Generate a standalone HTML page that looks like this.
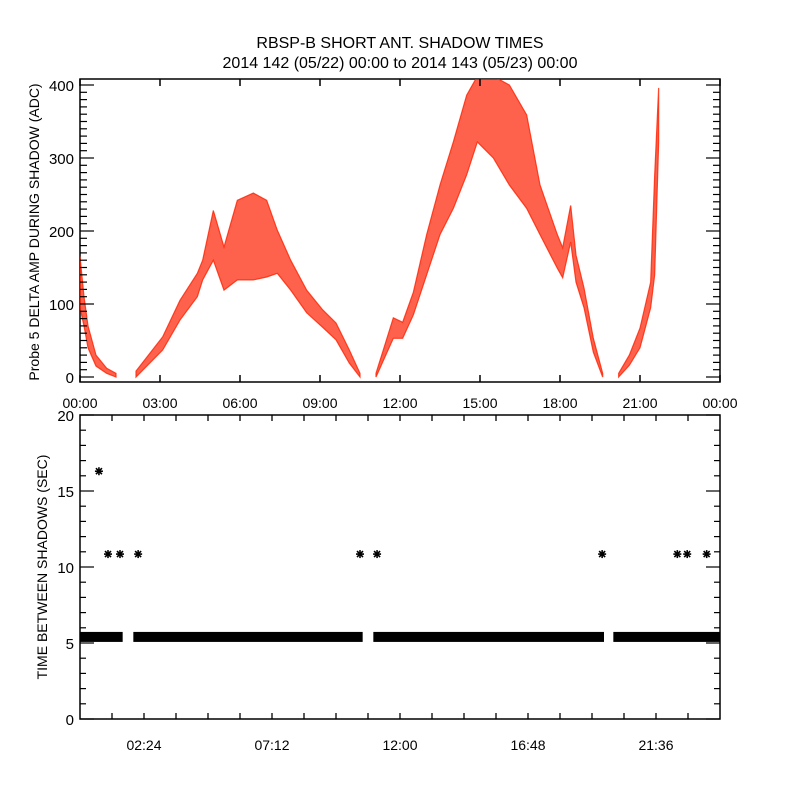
<!DOCTYPE html>
<html><head><meta charset="utf-8"><style>
html,body{margin:0;padding:0;background:#fff;}
svg{display:block;font-family:"Liberation Sans",sans-serif;}
</style></head><body>
<svg id="chart" width="800" height="800" viewBox="0 0 800 800">
<defs><clipPath id="topclip"><rect x="80" y="79" width="640" height="303"/></clipPath></defs>
<text x="400" y="48" text-anchor="middle" font-size="16">RBSP-B SHORT ANT. SHADOW TIMES</text>
<text x="400" y="68" text-anchor="middle" font-size="16">2014 142 (05/22) 00:00 to 2014 143 (05/23) 00:00</text>
<g id="topPanel"></g>
<g id="botPanel"></g>
</svg>
<script>
// ---- top panel data (hours, band low / high in ADC) ----
const seg1Hours=[0,0.15,0.3,0.6,1.0,1.35];
const seg1Low=[95,70,40,15,5,0];
const seg1High=[165,110,70,30,12,5];
const seg2Hours=[2.1,3.1,3.75,4.4,4.6,5.0,5.4,5.9,6.5,7.0,7.4,7.9,8.5,9.1,9.6,10.1,10.5];
const seg2Low=[0,37,78,110,133,160,119,133,133,137,142,119,88,68,51,19,0];
const seg2High=[8,55,105,142,160,228,178,242,252,242,201,160,119,92,74,37,5];
const seg3Hours=[11.1,11.75,12.1,12.5,13.0,13.5,14.0,14.5,14.9,15.5,16.1,16.75,17.25,17.9,18.1,18.4,18.6,18.9,19.25,19.6];
const seg3Low=[0,53,53,85,140,195,231,277,322,300,263,231,195,149,136,185,130,95,34,0];
const seg3High=[5,81,75,116,195,263,322,386,412,412,400,359,263,195,177,235,167,122,53,5];
const seg4Hours=[20.2,20.6,21.0,21.4,21.55,21.7];
const seg4Low=[0,16,40,95,140,322];
const seg4High=[5,30,67,130,276,396];
const topXTicks=["00:00","03:00","06:00","09:00","12:00","15:00","18:00","21:00","00:00"];
const topYTicks=[0,100,200,300,400];
// ---- bottom panel data ----
const bandStart=[0,2.0,11.0,20.0];
const bandEnd=[1.6,10.6,19.65,24];
const bandValue=5.4;
const starHours=[0.71,1.05,1.5,2.18,10.5,11.14,19.58,22.4,22.77,23.5];
const starValues=[16.3,10.85,10.85,10.85,10.85,10.85,10.85,10.85,10.85,10.85];
const botXTicks=["02:24","07:12","12:00","16:48","21:36"];
const botYTicks=[0,5,10,15,20];

{
const NS="http://www.w3.org/2000/svg";
function mk(parent,tag,attrs){const e=document.createElementNS(NS,tag);for(const k in attrs)e.setAttribute(k,attrs[k]);parent.appendChild(e);return e;}
const topG=document.getElementById('topPanel'), botG=document.getElementById('botPanel');
const tx=h=>80+h*640/24;
const ty=v=>377-v*0.73;
const by=v=>719-v*15.2;

let f=mk(topG,'rect',{x:80,y:79,width:640,height:303,fill:'none',stroke:'#000','stroke-width':1.5});


const bands=mk(topG,'g',{'clip-path':'url(#topclip)'});
[[seg1Hours,seg1Low,seg1High],[seg2Hours,seg2Low,seg2High],[seg3Hours,seg3Low,seg3High],[seg4Hours,seg4Low,seg4High]].forEach((s,i)=>{
  const [H,L,U]=s;let pts=[];
  for(let k=0;k<H.length;k++)pts.push(tx(H[k])+','+ty(U[k]));
  for(let k=H.length-1;k>=0;k--)pts.push(tx(H[k])+','+ty(L[k]));
  const p=mk(bands,'polygon',{points:pts.join(' '),fill:'#ff2000','fill-opacity':0.7,stroke:'#ff2000','stroke-width':1.2,'stroke-opacity':0.8});
  
  
});
topXTicks.forEach((t,i)=>{
  const x=80+i*80;
  mk(topG,'line',{x1:x,x2:x,y1:382,y2:375,stroke:'#000','stroke-width':1.5});
  mk(topG,'line',{x1:x,x2:x,y1:79,y2:86,stroke:'#000','stroke-width':1.5});
  const l=mk(topG,'text',{x:x,y:408,'text-anchor':'middle','font-size':14});l.textContent=t;
  
  
});
for(let v=0;v<=400;v+=10){
  const y=ty(v),len=(v%100===0)?14:7;
  mk(topG,'line',{x1:80,x2:80+len,y1:y,y2:y,stroke:'#000','stroke-width':1.2});
  mk(topG,'line',{x1:720,x2:720-len,y1:y,y2:y,stroke:'#000','stroke-width':1.2});
}
topYTicks.forEach(v=>{
  const l=mk(topG,'text',{x:74,y:ty(v)+6,'text-anchor':'end','font-size':15});l.textContent=v;
  
  
});
let yt=mk(topG,'text',{x:0,y:0,'text-anchor':'middle','font-size':14,transform:'translate(39,232) rotate(-90)'});
yt.textContent='Probe 5 DELTA AMP DURING SHADOW (ADC)';



f=mk(botG,'rect',{x:80,y:415,width:640,height:304,fill:'none',stroke:'#000','stroke-width':1.5});


bandStart.forEach((s,i)=>{
  const r=mk(botG,'rect',{x:tx(s),y:by(bandValue)-5,width:tx(bandEnd[i])-tx(s),height:10,fill:'#000'});
  
  
});
starHours.forEach((h,i)=>{
  const cx=tx(h),cy=by(starValues[i]),r=4;
  const g=mk(botG,'g',{stroke:'#000','stroke-width':1.6});
  
  
  mk(g,'line',{x1:cx-r,x2:cx+r,y1:cy,y2:cy});
  mk(g,'line',{x1:cx,x2:cx,y1:cy-r,y2:cy+r});
  mk(g,'line',{x1:cx-r*0.75,x2:cx+r*0.75,y1:cy-r*0.75,y2:cy+r*0.75});
  mk(g,'line',{x1:cx-r*0.75,x2:cx+r*0.75,y1:cy+r*0.75,y2:cy-r*0.75});
});
for(let k=1;k<20;k++){
  const x=80+k*32;
  mk(botG,'line',{x1:x,x2:x,y1:719,y2:713,stroke:'#000','stroke-width':1.3});
  mk(botG,'line',{x1:x,x2:x,y1:415,y2:421,stroke:'#000','stroke-width':1.3});
}
botXTicks.forEach((t,i)=>{
  const x=80+(2+i*4)*32;
  const l=mk(botG,'text',{x:x,y:750,'text-anchor':'middle','font-size':14});l.textContent=t;
  
  
});
for(let v=0;v<=20;v++){
  const y=by(v),len=(v%5===0)?14:6;
  mk(botG,'line',{x1:80,x2:80+len,y1:y,y2:y,stroke:'#000','stroke-width':1.2});
  mk(botG,'line',{x1:720,x2:720-len,y1:y,y2:y,stroke:'#000','stroke-width':1.2});
}
botYTicks.forEach(v=>{
  const l=mk(botG,'text',{x:74,y:by(v)+6,'text-anchor':'end','font-size':15});l.textContent=v;
  
  
});
yt=mk(botG,'text',{x:0,y:0,'text-anchor':'middle','font-size':14,transform:'translate(47,567) rotate(-90)'});
yt.textContent='TIME BETWEEN SHADOWS (SEC)';


}
</script>
</body></html>
